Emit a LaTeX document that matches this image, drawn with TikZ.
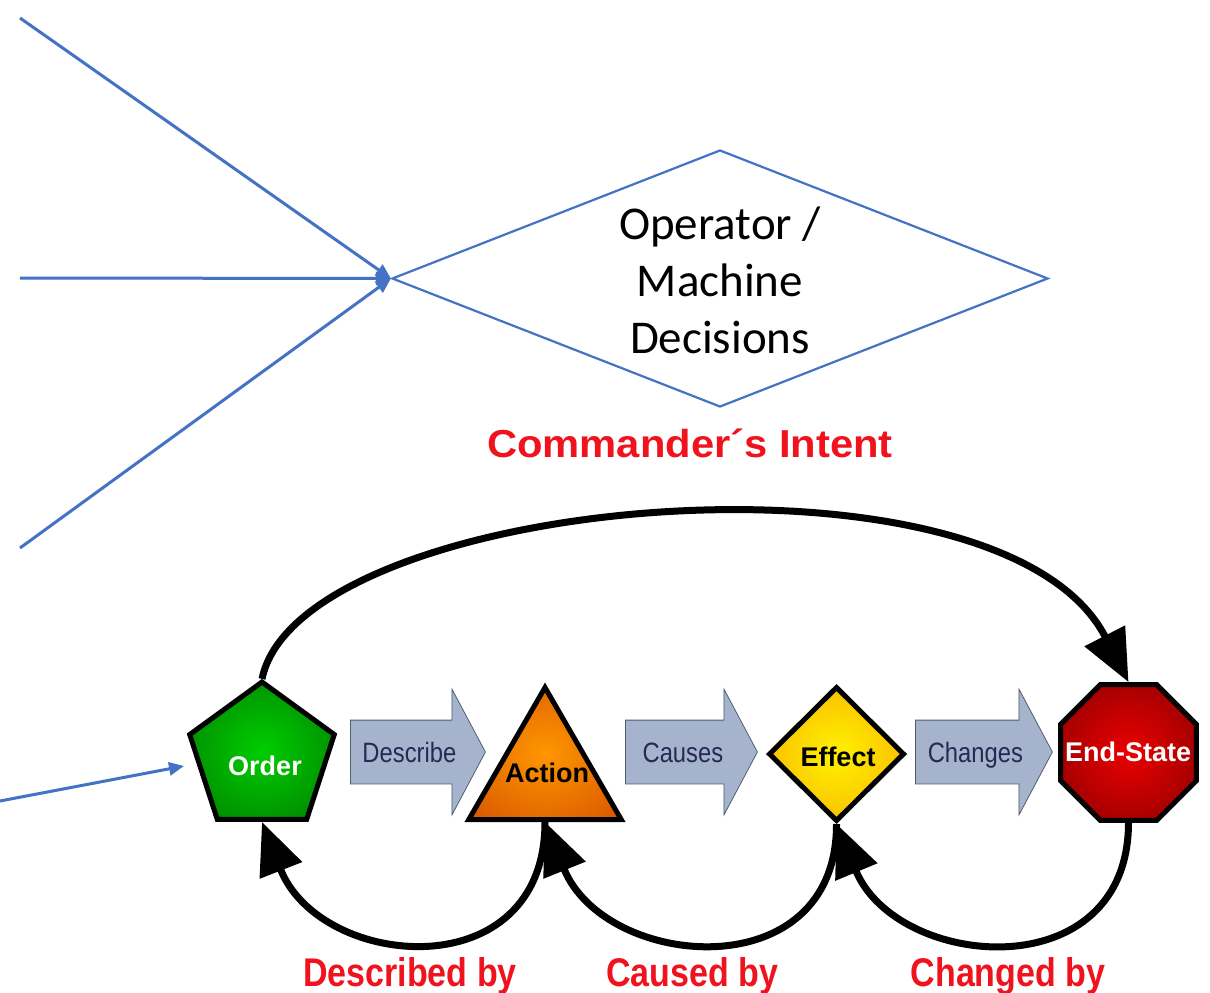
\documentclass[tikz,border=0pt]{standalone}
\usepackage{fontspec}
\setmainfont{Liberation Sans}
\newfontfamily\calibrifont{Carlito}
\newfontfamily\narrowfont[FakeStretch=0.85]{Liberation Sans}
\newfontfamily\widefont[FakeStretch=1.07]{Liberation Sans}
\usetikzlibrary{shapes.geometric,shapes.arrows,arrows.meta}

\definecolor{msblue}{RGB}{68,114,196}
\definecolor{capred}{RGB}{240,18,28}
\definecolor{arrowfill}{RGB}{165,180,204}
\definecolor{arrowedge}{RGB}{80,92,115}
\definecolor{arrowtext}{RGB}{40,40,85}
\definecolor{gIn}{RGB}{0,205,0}
\definecolor{gOut}{RGB}{0,105,0}
\definecolor{oIn}{RGB}{255,150,0}
\definecolor{oOut}{RGB}{205,68,0}
\definecolor{yIn}{RGB}{255,242,0}
\definecolor{yOut}{RGB}{245,155,0}
\definecolor{rIn}{RGB}{235,0,0}
\definecolor{rOut}{RGB}{115,0,0}

\pgfdeclareradialshading{greenglow}{\pgfpoint{0bp}{0bp}}{color(0bp)=(gIn); color(45bp)=(gOut); color(75bp)=(gOut)}
\pgfdeclareradialshading{orangeglow}{\pgfpoint{0bp}{0bp}}{color(0bp)=(oIn); color(45bp)=(oOut); color(75bp)=(oOut)}
\pgfdeclareradialshading{yellowglow}{\pgfpoint{0bp}{0bp}}{color(0bp)=(yIn); color(45bp)=(yOut); color(75bp)=(yOut)}
\pgfdeclareradialshading{redglow}{\pgfpoint{0bp}{0bp}}{color(0bp)=(rIn); color(45bp)=(rOut); color(75bp)=(rOut)}

\begin{document}
\begin{tikzpicture}[x=1pt,y=-1pt,
  stage/.style={draw=black, line width=5pt, inner sep=0pt, shade},
  stagelabel/.style={inner sep=0pt, font=\bfseries\fontsize{27}{30}\selectfont},
  blockarrow/.style={shape=single arrow, draw=arrowedge, line width=0.8pt,
    fill=arrowfill, single arrow head extend=31pt, single arrow tip angle=124,
    inner xsep=4pt, inner ysep=21.5pt, text height=20pt, text depth=0pt,
    anchor=tail, text=arrowtext, font=\narrowfont\fontsize{28}{30}\selectfont},
  loop/.style={line width=7pt, -{Triangle[length=52pt,width=44pt]}},
  bluearrow/.style={draw=msblue, line width=3pt, -{Triangle[length=15pt,width=13pt]}},
  redlabel/.style={text=capred, anchor=base, font=\narrowfont\bfseries\fontsize{40}{44}\selectfont}]

\fill[white] (0,0) rectangle (1210,993);
\useasboundingbox (0,0) rectangle (1210,993);

% decision diamond and its inputs
\node[draw=msblue, line width=2.2pt, diamond, minimum width=656pt,
      minimum height=257pt, inner sep=0pt] (omd) at (720,278.5) {};
\node[align=center, font=\calibrifont\fontsize{47}{57}\selectfont] (omdtext)
      at (720,280) {Operator /\\Machine\\Decisions};

\coordinate (in1) at (20,18);
\coordinate (in2) at (20,278);
\coordinate (in3) at (20,548);
\coordinate (in4) at (0,801);
\coordinate (orderin) at (184,766);

\draw[bluearrow] (in1) -- (omd.west);
\draw[bluearrow] (in2) -- (omd.west);
\draw[bluearrow] (in3) -- (omd.west);
\draw[bluearrow] (in4) -- (orderin);

% commander's intent chain
\node[text=capred, anchor=base, font=\widefont\bfseries\fontsize{39}{44}\selectfont]
      (intent) at (690,457) {Commander´s Intent};

\node[stage, regular polygon, regular polygon sides=5, minimum size=152pt,
      shading=greenglow] (order) at (262,758) {};
\node[stage, regular polygon, regular polygon sides=3, minimum size=176pt,
      shading=orangeglow] (action) at (545,775.5) {};
\node[stage, diamond, minimum width=136pt, minimum height=135pt,
      shading=yellowglow] (effect) at (836.5,754) {};
\node[stage, regular polygon, regular polygon sides=8, minimum size=147pt,
      shading=redglow] (endstate) at (1128.5,752.5) {};

\node[stagelabel, text=white] (orderlbl) at (265,766) {Order};
\node[stagelabel] (actionlbl) at (547,773) {Action};
\node[stagelabel] (effectlbl) at (838,757) {Effect};
\node[stagelabel, text=white] (endlbl) at (1128,752) {End-State};

\node[blockarrow, minimum height=135pt] (describe) at (350,752) {Describe};
\node[blockarrow, minimum height=132pt] (causes) at (625,752) {Causes};
\node[blockarrow, minimum height=137pt] (changes) at (915,752) {Changes};

\draw[loop] (order.north) .. controls (300,495) and (1000,432) .. (endstate.north);
\draw[loop] (action.south) .. controls (545,990) and (320,970) .. (order.south);
\draw[loop] (effect.south) .. controls (837,990) and (605,970) .. (action.south);
\draw[loop] (endstate.south) .. controls (1128,990) and (897,970) .. (effect.south);

\node[redlabel] (descby) at (410,986) {Described by};
\node[redlabel] (causby) at (692,986) {Caused by};
\node[redlabel] (changby) at (1008,986) {Changed by};

\end{tikzpicture}
\end{document}
